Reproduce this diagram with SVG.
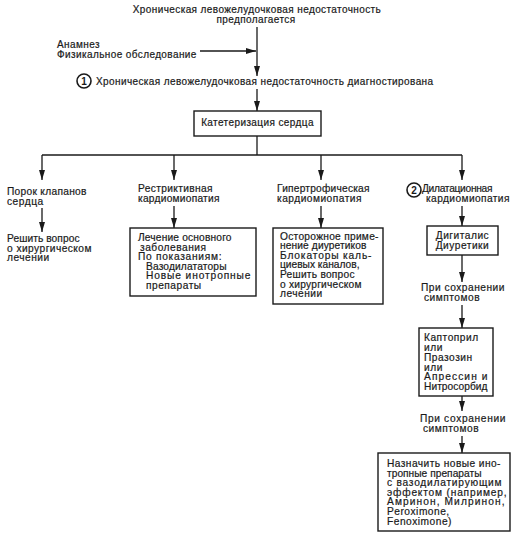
<svg xmlns="http://www.w3.org/2000/svg" width="515" height="538" viewBox="0 0 515 538">
<defs>
<style>
text{font-family:"Liberation Sans","Arial",sans-serif;font-size:10px;fill:#1a1a1a;stroke:#1a1a1a;stroke-width:0.2;letter-spacing:0.4px}
.lo{font-size:10.2px;letter-spacing:0.5px}
.m{text-anchor:middle}
.box{fill:#fff;stroke:#1a1a1a;stroke-width:1.4}
.ln{fill:none;stroke:#1a1a1a;stroke-width:1.3}
.num{font-weight:bold;font-size:10px;letter-spacing:0;stroke-width:0}
.circ{fill:#fff;stroke:#1a1a1a;stroke-width:1.6}
</style>
<marker id="ah" markerUnits="userSpaceOnUse" markerWidth="10" markerHeight="8" viewBox="0 0 10 8" refX="10" refY="4" orient="auto">
<path d="M0,1 L10,4 L0,7 Z" fill="#1a1a1a"/>
</marker>
</defs>
<rect width="515" height="538" fill="#fff"/>

<g id="connectors">
<line class="ln" x1="257" y1="27" x2="257" y2="76" marker-end="url(#ah)"/>
<line class="ln" x1="200" y1="51" x2="256" y2="51" marker-end="url(#ah)"/>
<line class="ln" x1="257" y1="89" x2="257" y2="111" marker-end="url(#ah)"/>
<polyline class="ln" points="257,136 257,155"/>
<line class="ln" x1="42" y1="155" x2="462" y2="155"/>
<line class="ln" x1="42" y1="155" x2="42" y2="180" marker-end="url(#ah)"/>
<line class="ln" x1="174" y1="155" x2="174" y2="180" marker-end="url(#ah)"/>
<line class="ln" x1="321" y1="155" x2="321" y2="180" marker-end="url(#ah)"/>
<line class="ln" x1="462" y1="155" x2="462" y2="180" marker-end="url(#ah)"/>
<line class="ln" x1="42" y1="208" x2="42" y2="232" marker-end="url(#ah)"/>
<line class="ln" x1="174" y1="206" x2="174" y2="228" marker-end="url(#ah)"/>
<line class="ln" x1="321" y1="206" x2="321" y2="228" marker-end="url(#ah)"/>
<line class="ln" x1="462" y1="206" x2="462" y2="226" marker-end="url(#ah)"/>
<line class="ln" x1="462" y1="255" x2="462" y2="282" marker-end="url(#ah)"/>
<line class="ln" x1="462" y1="305" x2="462" y2="328" marker-end="url(#ah)"/>
<line class="ln" x1="462" y1="396" x2="462" y2="411" marker-end="url(#ah)"/>
<line class="ln" x1="462" y1="436" x2="462" y2="453" marker-end="url(#ah)"/>
</g>

<g id="suspected">
<text class="m" x="257" y="12.5">Хроническая левожелудочковая недостаточность</text>
<text class="m" x="256" y="23">предполагается</text>
</g>

<g id="exam">
<text x="57" y="47.5">Анамнез</text>
<text x="57" y="58">Физикальное обследование</text>
</g>

<g id="diagnosed">
<circle class="circ" cx="84" cy="81" r="7"/>
<text class="m num" x="84" y="84.5">1</text>
<text x="96" y="84.5">Хроническая левожелудочковая недостаточность диагностирована</text>
</g>

<g id="cath">
<rect class="box" x="194" y="111" width="127" height="25"/>
<text class="m" x="257.5" y="126">Катетеризация сердца</text>
</g>

<g id="valve">
<text class="lo" x="7" y="195" textLength="80">Порок клапанов</text>
<text class="lo" x="7" y="204.8">сердца</text>
</g>

<g id="valve-action">
<text class="lo" x="7" y="242" textLength="73">Решить вопрос</text>
<text class="lo" x="7" y="251.7" textLength="85">о хирургическом</text>
<text class="lo" x="7" y="261.4">лечении</text>
</g>

<g id="restrictive">
<text class="lo" x="138" y="191.5" textLength="75">Рестриктивная</text>
<text class="lo" x="138" y="201.5" textLength="82">кардиомиопатия</text>
</g>

<g id="restrictive-box">
<rect class="box" x="130" y="228" width="126" height="68"/>
<text class="lo" x="138" y="241" textLength="94">Лечение основного</text>
<text class="lo" x="140" y="250.6">заболевания</text>
<text class="lo" x="138" y="260.2" textLength="84">По показаниям:</text>
<text class="lo" x="146" y="269.8" textLength="81">Вазодилататоры</text>
<text class="lo" x="146" y="279.4" textLength="105">Новые инотропные</text>
<text class="lo" x="146" y="289">препараты</text>
</g>

<g id="hypertrophic">
<text class="lo" x="277" y="191.5" textLength="93">Гипертрофическая</text>
<text class="lo" x="277" y="201.5" textLength="85">кардиомиопатия</text>
</g>

<g id="hypertrophic-box">
<rect class="box" x="273" y="228" width="110" height="76"/>
<text class="lo" x="280" y="239.5" textLength="99">Осторожное приме-</text>
<text class="lo" x="280" y="249.1" textLength="87">нение диуретиков</text>
<text class="lo" x="280" y="258.7" textLength="92">Блокаторы каль-</text>
<text class="lo" x="280" y="268.3" textLength="80">циевых каналов,</text>
<text class="lo" x="280" y="277.9" textLength="75">Решить вопрос</text>
<text class="lo" x="280" y="287.5" textLength="82">о хирургическом</text>
<text class="lo" x="280" y="297.1">лечении</text>
</g>

<g id="dilated">
<circle class="circ" cx="414" cy="190" r="7"/>
<text class="m num" x="414" y="193.5">2</text>
<text class="lo" x="422" y="191.5" textLength="71">Дилатационная</text>
<text class="lo" x="426" y="201.5" textLength="84">кардиомиопатия</text>
</g>

<g id="digitalis">
<rect class="box" x="427" y="226" width="71" height="29"/>
<text class="lo m" x="462.5" y="238.5">Дигиталис</text>
<text class="lo m" x="462.5" y="248.5">Диуретики</text>
</g>

<g id="persist1">
<text class="lo" x="421" y="291" textLength="84">При сохранении</text>
<text class="lo" x="424" y="301">симптомов</text>
</g>

<g id="captopril">
<rect class="box" x="419" y="328" width="74" height="68"/>
<text class="lo" x="424" y="341">Каптоприл</text>
<text class="lo" x="424" y="351">или</text>
<text class="lo" x="424" y="361">Празозин</text>
<text class="lo" x="424" y="370.5">или</text>
<text class="lo" x="424" y="380" textLength="64">Апрессин и</text>
<text class="lo" x="424" y="390" textLength="64">Нитросорбид</text>
</g>

<g id="persist2">
<text class="lo" x="420" y="422" textLength="86">При сохранении</text>
<text class="lo" x="423" y="432">симптомов</text>
</g>

<g id="inotropes">
<rect class="box" x="378" y="453" width="132" height="78"/>
<text class="lo" x="387" y="467" textLength="114">Назначить новые ино-</text>
<text class="lo" x="387" y="476.6" textLength="95">тропные препараты</text>
<text class="lo" x="387" y="486.2" textLength="115">с вазодилатирующим</text>
<text class="lo" x="387" y="495.8" textLength="120">эффектом (например,</text>
<text class="lo" x="387" y="505.4" textLength="118">Амринон, Милринон,</text>
<text class="lo" x="387" y="515">Peroximone,</text>
<text class="lo" x="387" y="524.6">Fenoximone)</text>
</g>
</svg>
